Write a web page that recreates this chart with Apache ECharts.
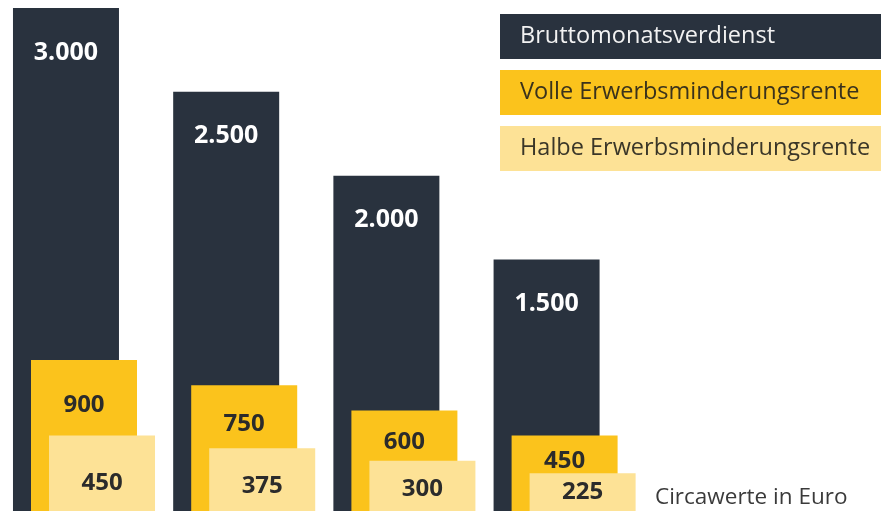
<!DOCTYPE html>
<html>
<head>
<meta charset="utf-8">
<script src="https://cdn.jsdelivr.net/npm/echarts@6/dist/echarts.min.js"></script>
<style>
  html, body { margin: 0; padding: 0; background: #fff; }
  #chart { width: 881px; height: 516px; }
</style>
</head>
<body>
<div id="chart"></div>
<script>
// Werte (Circawerte in Euro)
var categories = ['Stufe 1', 'Stufe 2', 'Stufe 3', 'Stufe 4'];
var brutto = [3000, 2500, 2000, 1500];
var volle = [900, 750, 600, 450];
var halbe = [450, 375, 300, 225];
var seriesNames = ['Bruttomonatsverdienst', 'Volle Erwerbsminderungsrente', 'Halbe Erwerbsminderungsrente'];

var chart = echarts.init(document.getElementById('chart'));

var gridTop = 8, gridBottom = 5;
var pxPerEuro = (516 - gridTop - gridBottom) / 3000;

function fmt(v) {
  // Tausenderpunkt
  return String(v).replace(/\B(?=(\d{3})+(?!\d))/g, '.');
}

var font = '"Open Sans", "Noto Sans", sans-serif';
var dark = '#29323e', yellow = '#fbc31c', light = '#fde296';

// Label der vollen Rente mittig im sichtbaren Teil ueber dem hellen Balken
var volleData = volle.map(function (v, i) {
  return {
    value: v,
    label: { distance: (v - halbe[i]) * pxPerEuro / 2 - 5 }
  };
});
// Label der halben Rente etwas unterhalb der Mitte
var halbeData = halbe.map(function (v) {
  return {
    value: v,
    label: { distance: v * pxPerEuro / 4 - 3 }
  };
});

function legendItem(name, bg, color) {
  return {
    name: name,
    icon: 'none',
    textStyle: {
      color: color,
      backgroundColor: bg,
      fontFamily: font,
      fontSize: 23.5,
      width: 362,
      height: 45,
      lineHeight: 45,
      padding: [0, 0, 0, 20]
    }
  };
}

var option = {
  animation: false,
  title: {
    text: 'Circawerte in Euro',
    left: 650,
    top: 481,
    textStyle: { fontFamily: font, fontSize: 22.5, fontWeight: 'normal', color: '#3a3a3a' }
  },
  legend: {
    orient: 'vertical',
    left: 490,
    top: 9,
    itemWidth: 0,
    itemGap: 11,
    selectedMode: false,
    data: [
      legendItem(seriesNames[0], dark, '#f2f2f2'),
      legendItem(seriesNames[1], yellow, '#3a321c'),
      legendItem(seriesNames[2], light, '#3a3628')
    ]
  },
  grid: { left: 3.9, right: 236.3, top: gridTop, bottom: gridBottom },
  xAxis: {
    type: 'category',
    data: categories,
    show: false
  },
  yAxis: {
    type: 'value',
    min: 0,
    max: 3000,
    show: false
  },
  series: [
    {
      name: seriesNames[0],
      type: 'bar',
      data: brutto,
      barWidth: 106,
      barGap: '-83%',
      itemStyle: { color: dark },
      label: {
        show: true,
        position: 'insideTop',
        distance: 32,
        color: '#fff',
        fontFamily: font,
        fontWeight: 'bold',
        fontSize: 25,
        formatter: function (p) { return fmt(p.value); }
      }
    },
    {
      name: seriesNames[1],
      type: 'bar',
      data: volleData,
      barWidth: 106,
      barGap: '-83%',
      itemStyle: { color: yellow },
      label: {
        show: true,
        position: 'insideTop',
        color: '#2b2b2b',
        fontFamily: font,
        fontWeight: 'bold',
        fontSize: 24,
        lineHeight: 24
      }
    },
    {
      name: seriesNames[2],
      type: 'bar',
      data: halbeData,
      barWidth: 106,
      barGap: '-83%',
      itemStyle: { color: light },
      label: {
        show: true,
        position: 'insideBottom',
        color: '#2b2b2b',
        fontFamily: font,
        fontWeight: 'bold',
        fontSize: 24,
        lineHeight: 24
      }
    }
  ]
};

chart.setOption(option);
</script>
</body>
</html>
